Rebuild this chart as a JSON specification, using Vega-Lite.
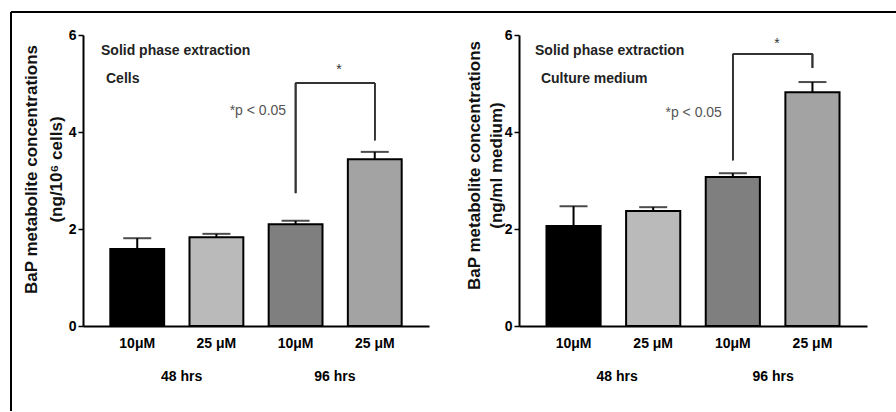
{
  "$schema": "https://vega.github.io/schema/vega-lite/v6.json",
  "padding": {"left": 9, "top": 11, "right": 0, "bottom": 0},
  "background": "white",
  "bounds": "flush",
  "spacing": 90,
  "config": {"view": {"stroke": null}, "font": "Liberation Sans"},
  "datasets": {
    "cells": [
      {"group": "48 hrs: 10μM", "mean": 1.59, "upper": 1.81},
      {"group": "48 hrs: 25 μM", "mean": 1.83, "upper": 1.9},
      {"group": "96 hrs: 10μM", "mean": 2.1, "upper": 2.17},
      {"group": "96 hrs: 25 μM", "mean": 3.44, "upper": 3.59}
    ],
    "medium": [
      {"group": "48 hrs: 10μM", "mean": 2.06, "upper": 2.47},
      {"group": "48 hrs: 25 μM", "mean": 2.37, "upper": 2.45},
      {"group": "96 hrs: 10μM", "mean": 3.07, "upper": 3.15},
      {"group": "96 hrs: 25 μM", "mean": 4.82, "upper": 5.03}
    ],
    "one": [{}]
  },
  "hconcat": [
    {
      "width": 346,
      "height": 291,
      "layer": [
        {
          "data": {"name": "cells"},
          "layer": [
            {
              "mark": {"type": "bar", "stroke": "black", "strokeWidth": 2},
              "encoding": {
                "x": {"field": "group", "type": "nominal", "sort": null,
                  "scale": {"paddingInner": 0.32, "paddingOuter": 0.345},
                  "axis": {"title": null, "labelExpr": "split(datum.label, ': ')[1]", "ticks": false, "domainWidth": 2, "domainColor": "black", "labelFontSize": 14, "labelFontWeight": "bold", "labelColor": "black", "labelPadding": 10, "labelAngle": 0}},
                "y": {"field": "mean", "type": "quantitative",
                  "scale": {"domain": [0, 6], "nice": false, "zero": false},
                  "axis": {"values": [0, 2, 4, 6], "grid": false, "title": ["BaP metabolite concentrations", "(ng/10⁶ cells)"], "titleFontSize": 17, "titleFontWeight": "bold", "titleLineHeight": 25, "titleColor": "#111111", "titleX": -43, "titleY": 134, "labelFontSize": 14, "labelFontWeight": "bold", "labelColor": "black", "labelPadding": 2, "tickSize": 5, "tickWidth": 1.5, "tickColor": "black", "domainWidth": 2, "domainColor": "black"}},
                "color": {"field": "group", "type": "nominal", "sort": null, "legend": null,
                  "scale": {"range": ["#000000", "#bababa", "#7f7f7f", "#a3a3a3"]}}
              }
            },
            {
              "mark": {"type": "rule", "color": "black", "strokeWidth": 2},
              "encoding": {
                "x": {"field": "group", "type": "nominal", "sort": null},
                "y": {"field": "mean", "type": "quantitative", "scale": {"domain": [0, 6], "nice": false, "zero": false}},
                "y2": {"field": "upper"}
              }
            },
            {
              "mark": {"type": "tick", "color": "black", "size": 28, "thickness": 2},
              "encoding": {
                "x": {"field": "group", "type": "nominal", "sort": null},
                "y": {"field": "upper", "type": "quantitative", "scale": {"domain": [0, 6], "nice": false, "zero": false}}
              }
            },
            {
              "mark": {"type": "rule", "color": "#333333", "strokeWidth": 1.5},
              "encoding": {
                "x": {"datum": "96 hrs: 10μM", "type": "nominal"},
                "y": {"datum": 2.74, "type": "quantitative", "scale": {"domain": [0, 6], "nice": false, "zero": false}},
                "y2": {"datum": 5.01}
              }
            },
            {
              "mark": {"type": "rule", "color": "#333333", "strokeWidth": 1.5},
              "encoding": {
                "x": {"datum": "96 hrs: 10μM", "type": "nominal"},
                "x2": {"datum": "96 hrs: 25 μM"},
                "y": {"datum": 5.01, "type": "quantitative", "scale": {"domain": [0, 6], "nice": false, "zero": false}}
              }
            },
            {
              "mark": {"type": "rule", "color": "#333333", "strokeWidth": 1.5},
              "encoding": {
                "x": {"datum": "96 hrs: 25 μM", "type": "nominal"},
                "y": {"datum": 3.83, "type": "quantitative", "scale": {"domain": [0, 6], "nice": false, "zero": false}},
                "y2": {"datum": 5.01}
              }
            }
          ]
        },
        {
          "data": {"name": "one"},
          "layer": [
            {
              "mark": {"type": "rule", "color": "black", "strokeWidth": 2},
              "encoding": {
                "x": {"datum": -0.2081, "type": "quantitative", "scale": {"domain": [0, 1], "nice": false, "zero": false}, "axis": null},
                "y": {"datum": 6.474, "type": "quantitative", "scale": {"domain": [0, 6], "nice": false, "zero": false}},
                "y2": {"datum": -1.753}
              }
            },
            {
              "mark": {"type": "rule", "color": "black", "strokeWidth": 2},
              "encoding": {
                "x": {"datum": -0.2081, "type": "quantitative", "scale": {"domain": [0, 1], "nice": false, "zero": false}, "axis": null},
                "x2": {"datum": 2.3497},
                "y": {"datum": 6.474, "type": "quantitative", "scale": {"domain": [0, 6], "nice": false, "zero": false}}
              }
            },
            {
              "mark": {"type": "text", "text": "Solid phase extraction", "align": "left", "baseline": "middle", "fontSize": 14, "fontWeight": "bold", "color": "#222222"},
              "encoding": {
                "x": {"datum": 0.052, "type": "quantitative", "scale": {"domain": [0, 1], "nice": false, "zero": false}, "axis": null},
                "y": {"datum": 5.67, "type": "quantitative", "scale": {"domain": [0, 6], "nice": false, "zero": false}}
              }
            },
            {
              "mark": {"type": "text", "text": "Cells", "align": "left", "baseline": "middle", "fontSize": 14, "fontWeight": "bold", "color": "#222222"},
              "encoding": {
                "x": {"datum": 0.0665, "type": "quantitative", "scale": {"domain": [0, 1], "nice": false, "zero": false}, "axis": null},
                "y": {"datum": 5.09, "type": "quantitative", "scale": {"domain": [0, 6], "nice": false, "zero": false}}
              }
            },
            {
              "mark": {"type": "text", "text": "*p < 0.05", "align": "right", "baseline": "middle", "fontSize": 14, "color": "#555555"},
              "encoding": {
                "x": {"datum": 0.587, "type": "quantitative", "scale": {"domain": [0, 1], "nice": false, "zero": false}, "axis": null},
                "y": {"datum": 4.43, "type": "quantitative", "scale": {"domain": [0, 6], "nice": false, "zero": false}}
              }
            },
            {
              "mark": {"type": "text", "text": "*", "align": "center", "baseline": "middle", "fontSize": 14, "color": "#333333"},
              "encoding": {
                "x": {"datum": 0.74, "type": "quantitative", "scale": {"domain": [0, 1], "nice": false, "zero": false}, "axis": null},
                "y": {"datum": 5.28, "type": "quantitative", "scale": {"domain": [0, 6], "nice": false, "zero": false}}
              }
            },
            {
              "mark": {"type": "text", "text": "48 hrs", "align": "center", "baseline": "middle", "fontSize": 14, "fontWeight": "bold", "color": "black"},
              "encoding": {
                "x": {"datum": 0.285, "type": "quantitative", "scale": {"domain": [0, 1], "nice": false, "zero": false}, "axis": null},
                "y": {"datum": -1.05, "type": "quantitative", "scale": {"domain": [0, 6], "nice": false, "zero": false}}
              }
            },
            {
              "mark": {"type": "text", "text": "96 hrs", "align": "center", "baseline": "middle", "fontSize": 14, "fontWeight": "bold", "color": "black"},
              "encoding": {
                "x": {"datum": 0.728, "type": "quantitative", "scale": {"domain": [0, 1], "nice": false, "zero": false}, "axis": null},
                "y": {"datum": -1.05, "type": "quantitative", "scale": {"domain": [0, 6], "nice": false, "zero": false}}
              }
            }
          ]
        }
      ],
      "resolve": {"scale": {"x": "independent"}}
    },
    {
      "width": 348,
      "height": 291,
      "layer": [
        {
          "data": {"name": "medium"},
          "layer": [
            {
              "mark": {"type": "bar", "stroke": "black", "strokeWidth": 2},
              "encoding": {
                "x": {"field": "group", "type": "nominal", "sort": null,
                  "scale": {"paddingInner": 0.32, "paddingOuter": 0.345},
                  "axis": {"title": null, "labelExpr": "split(datum.label, ': ')[1]", "ticks": false, "domainWidth": 2, "domainColor": "black", "labelFontSize": 14, "labelFontWeight": "bold", "labelColor": "black", "labelPadding": 10, "labelAngle": 0}},
                "y": {"field": "mean", "type": "quantitative",
                  "scale": {"domain": [0, 6], "nice": false, "zero": false},
                  "axis": {"values": [0, 2, 4, 6], "grid": false, "title": ["BaP metabolite concentrations", "(ng/ml medium)"], "titleFontSize": 17, "titleFontWeight": "bold", "titleLineHeight": 22, "titleColor": "#111111", "titleX": -36, "titleY": 130, "labelFontSize": 14, "labelFontWeight": "bold", "labelColor": "black", "labelPadding": 2, "tickSize": 5, "tickWidth": 1.5, "tickColor": "black", "domainWidth": 2, "domainColor": "black"}},
                "color": {"field": "group", "type": "nominal", "sort": null, "legend": null,
                  "scale": {"range": ["#000000", "#bababa", "#7f7f7f", "#a3a3a3"]}}
              }
            },
            {
              "mark": {"type": "rule", "color": "black", "strokeWidth": 2},
              "encoding": {
                "x": {"field": "group", "type": "nominal", "sort": null},
                "y": {"field": "mean", "type": "quantitative", "scale": {"domain": [0, 6], "nice": false, "zero": false}},
                "y2": {"field": "upper"}
              }
            },
            {
              "mark": {"type": "tick", "color": "black", "size": 28, "thickness": 2},
              "encoding": {
                "x": {"field": "group", "type": "nominal", "sort": null},
                "y": {"field": "upper", "type": "quantitative", "scale": {"domain": [0, 6], "nice": false, "zero": false}}
              }
            },
            {
              "mark": {"type": "rule", "color": "#333333", "strokeWidth": 1.5},
              "encoding": {
                "x": {"datum": "96 hrs: 10μM", "type": "nominal"},
                "y": {"datum": 3.42, "type": "quantitative", "scale": {"domain": [0, 6], "nice": false, "zero": false}},
                "y2": {"datum": 5.61}
              }
            },
            {
              "mark": {"type": "rule", "color": "#333333", "strokeWidth": 1.5},
              "encoding": {
                "x": {"datum": "96 hrs: 10μM", "type": "nominal"},
                "x2": {"datum": "96 hrs: 25 μM"},
                "y": {"datum": 5.61, "type": "quantitative", "scale": {"domain": [0, 6], "nice": false, "zero": false}}
              }
            },
            {
              "mark": {"type": "rule", "color": "#333333", "strokeWidth": 1.5},
              "encoding": {
                "x": {"datum": "96 hrs: 25 μM", "type": "nominal"},
                "y": {"datum": 5.32, "type": "quantitative", "scale": {"domain": [0, 6], "nice": false, "zero": false}},
                "y2": {"datum": 5.61}
              }
            }
          ]
        },
        {
          "data": {"name": "one"},
          "layer": [
            {
              "mark": {"type": "text", "text": "Solid phase extraction", "align": "left", "baseline": "middle", "fontSize": 14, "fontWeight": "bold", "color": "#222222"},
              "encoding": {
                "x": {"datum": 0.046, "type": "quantitative", "scale": {"domain": [0, 1], "nice": false, "zero": false}, "axis": null},
                "y": {"datum": 5.67, "type": "quantitative", "scale": {"domain": [0, 6], "nice": false, "zero": false}}
              }
            },
            {
              "mark": {"type": "text", "text": "Culture medium", "align": "left", "baseline": "middle", "fontSize": 14, "fontWeight": "bold", "color": "#222222"},
              "encoding": {
                "x": {"datum": 0.063, "type": "quantitative", "scale": {"domain": [0, 1], "nice": false, "zero": false}, "axis": null},
                "y": {"datum": 5.09, "type": "quantitative", "scale": {"domain": [0, 6], "nice": false, "zero": false}}
              }
            },
            {
              "mark": {"type": "text", "text": "*p < 0.05", "align": "right", "baseline": "middle", "fontSize": 14, "color": "#555555"},
              "encoding": {
                "x": {"datum": 0.583, "type": "quantitative", "scale": {"domain": [0, 1], "nice": false, "zero": false}, "axis": null},
                "y": {"datum": 4.39, "type": "quantitative", "scale": {"domain": [0, 6], "nice": false, "zero": false}}
              }
            },
            {
              "mark": {"type": "text", "text": "*", "align": "center", "baseline": "middle", "fontSize": 14, "color": "#333333"},
              "encoding": {
                "x": {"datum": 0.741, "type": "quantitative", "scale": {"domain": [0, 1], "nice": false, "zero": false}, "axis": null},
                "y": {"datum": 5.81, "type": "quantitative", "scale": {"domain": [0, 6], "nice": false, "zero": false}}
              }
            },
            {
              "mark": {"type": "text", "text": "48 hrs", "align": "center", "baseline": "middle", "fontSize": 14, "fontWeight": "bold", "color": "black"},
              "encoding": {
                "x": {"datum": 0.282, "type": "quantitative", "scale": {"domain": [0, 1], "nice": false, "zero": false}, "axis": null},
                "y": {"datum": -1.05, "type": "quantitative", "scale": {"domain": [0, 6], "nice": false, "zero": false}}
              }
            },
            {
              "mark": {"type": "text", "text": "96 hrs", "align": "center", "baseline": "middle", "fontSize": 14, "fontWeight": "bold", "color": "black"},
              "encoding": {
                "x": {"datum": 0.73, "type": "quantitative", "scale": {"domain": [0, 1], "nice": false, "zero": false}, "axis": null},
                "y": {"datum": -1.05, "type": "quantitative", "scale": {"domain": [0, 6], "nice": false, "zero": false}}
              }
            }
          ]
        }
      ],
      "resolve": {"scale": {"x": "independent"}}
    }
  ]
}
